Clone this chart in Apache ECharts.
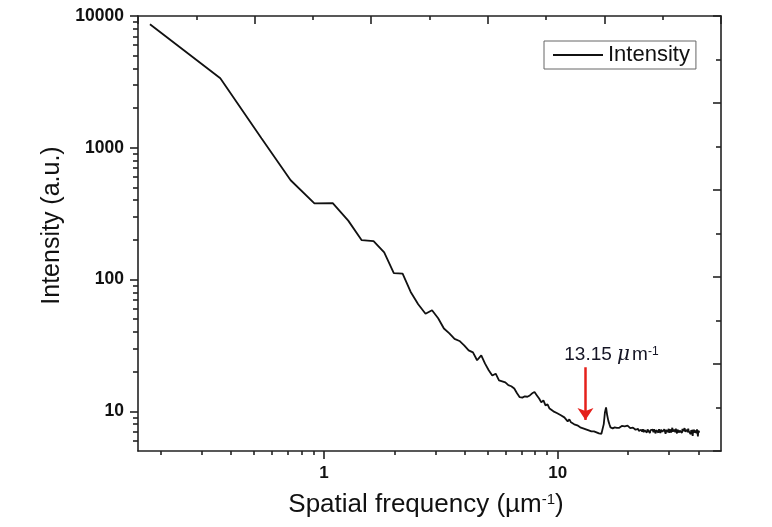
<!DOCTYPE html>
<html>
<head>
<meta charset="utf-8">
<script src="https://cdn.jsdelivr.net/npm/echarts@6/dist/echarts.min.js"></script>
<style>html,body{margin:0;padding:0;background:#fff;}#c{width:772px;height:527px;}</style>
</head>
<body>
<div id="c"></div>
<script>
// Spatial frequency (µm^-1)
const freq = [
0.18,0.36,0.54,0.72,0.91,1.09,1.27,1.45,1.63,1.81,
1.99,2.17,2.35,2.53,2.72,2.9,3.08,3.26,3.44,3.62,
3.8,3.98,4.16,4.34,4.52,4.71,4.89,5.07,5.25,5.43,
5.61,5.79,5.97,6.15,6.33,6.52,6.7,6.88,7.06,7.24,
7.42,7.6,7.78,7.96,8.15,8.33,8.51,8.69,8.87,9.05,
9.23,9.41,9.59,9.77,9.96,10.14,10.32,10.5,10.68,10.86,
11.04,11.22,11.4,11.58,11.77,11.95,12.13,12.31,12.49,12.67,
12.85,13.03,13.21,13.39,13.58,13.76,13.94,14.12,14.3,14.48,
14.66,14.84,15.02,15.2,15.39,15.57,15.75,15.93,16.11,16.29,
16.47,16.65,16.83,17.01,17.2,17.38,17.56,17.74,17.92,18.1,
18.28,18.46,18.64,18.82,19.01,19.19,19.37,19.55,19.73,19.91,
20.09,20.27,20.45,20.63,20.82,21.0,21.18,21.36,21.54,21.72,
21.9,22.08,22.26,22.44,22.63,22.81,22.99,23.17,23.35,23.53,
23.71,23.89,24.07,24.25,24.44,24.62,24.8,24.98,25.16,25.34,
25.52,25.7,25.88,26.06,26.25,26.43,26.61,26.79,26.97,27.15,
27.33,27.51,27.69,27.87,28.06,28.24,28.42,28.6,28.78,28.96,
29.14,29.32,29.5,29.68,29.87,30.05,30.23,30.41,30.59,30.77,
30.95,31.13,31.31,31.49,31.68,31.86,32.04,32.22,32.4,32.58,
32.76,32.94,33.12,33.3,33.49,33.67,33.85,34.03,34.21,34.39,
34.57,34.75,34.93,35.11,35.3,35.48,35.66,35.84,36.02,36.2,
36.38,36.56,36.74,36.92,37.11,37.29,37.47,37.65,37.83,38.01,
38.19,38.37,38.55,38.73,38.92,39.1,39.28,39.46,39.64,39.82,
40.0,40.18,40.36
];
// Intensity (a.u.)
const intensity = [
8670,3375,1183,567,378,380,280,199,196,161,
112,111,80.5,65,55,58.5,50.8,42.5,39,35.5,
34.2,31.7,29.0,28.0,24.4,26.6,23.0,20.5,18.7,19.3,
17.2,16.9,16.6,15.8,15.5,14.9,13.7,12.8,12.7,13.0,
12.9,13.2,13.7,14.0,13.2,12.5,11.7,12.1,11.1,11.3,
10.5,10.7,10.0,10.2,9.66,9.83,9.33,9.49,9.0,9.16,
8.4,8.7,8.25,8.4,7.97,8.25,7.83,7.97,7.56,7.7,
7.43,7.56,7.3,7.37,7.17,7.3,7.05,7.3,7.05,7.1,
6.93,7.05,6.8,6.93,6.75,6.8,8.0,9.8,10.7,9.33,
8.5,7.97,7.56,7.7,7.43,7.6,7.55,7.7,7.5,7.62,
7.48,7.7,7.58,7.75,7.6,7.82,7.7,7.85,7.65,7.78,
7.55,7.68,7.45,7.6,7.4,7.52,7.35,7.48,7.25,7.42,
7.2,7.36,7.1,7.3,7.05,7.25,7.0,7.32,6.95,7.22,
7.4,7.1,6.9,7.28,7.05,7.35,6.85,7.2,7.45,7.0,
7.25,6.95,7.3,7.1,6.8,7.2,7.4,7.05,6.9,7.32,
7.15,6.85,7.25,7.45,7.0,7.18,6.9,7.3,7.08,6.75,
7.22,7.4,6.95,7.15,7.35,6.88,7.1,7.3,6.92,7.2,
7.5,7.02,6.85,7.28,7.12,6.95,7.38,7.05,6.8,7.25,
7.1,7.42,6.9,7.15,7.3,6.98,7.2,6.85,7.35,7.08,
6.92,7.28,7.45,7.0,7.18,6.82,7.25,7.1,6.95,7.4,
7.05,6.88,7.3,7.15,6.7,7.2,7.35,6.95,6.5,7.28,
6.85,7.22,7.05,7.4,6.9,7.18,6.8,7.3,7.0,6.45,
7.15,6.9,7.1
];
// Tick values
const xMajorTicks = [1, 10];
const xMinorTicks = [0.2,0.3,0.4,0.5,0.6,0.7,0.8,0.9,2,3,4,5,6,7,8,9,20,30,40];
const yMajorTicks = [10, 100, 1000, 10000];
const yMinorTicks = [6,7,8,9,20,30,40,50,60,70,80,90,200,300,400,500,600,700,800,900,2000,3000,4000,5000,6000,7000,8000,9000];
// Annotation
const peakFreq = 13.15;
const arrowTop = 21.6;
const arrowBottom = 8.6;

const data = freq.map((f, i) => [f, intensity[i]]);
const FONT = '"Liberation Sans", Arial, sans-serif';
const AX = '#222';

const chart = echarts.init(document.getElementById('c'), null, {renderer: 'canvas'});
chart.setOption({
  animation: false,
  backgroundColor: '#fff',
  textStyle: {fontFamily: FONT, color: '#000'},
  grid: {left: 138, top: 16, right: 51, bottom: 76, containLabel: false, outerBoundsMode: 'none'},
  legend: {
    left: 544, top: 41,
    orient: 'horizontal',
    borderColor: '#666', borderWidth: 1, borderRadius: 0,
    backgroundColor: '#fff',
    padding: [3, 6, 3, 9],
    itemWidth: 50, itemHeight: 14,
    itemGap: 6,
    textStyle: {fontSize: 22, color: '#111', fontFamily: FONT},
    data: [{name: 'Intensity', icon: 'path://M0,6 L50,6 L50,8 L0,8 Z', itemStyle: {color: '#111'}}]
  },
  xAxis: [
    {
      type: 'log', logBase: 10, min: 0.16, max: 50, position: 'bottom',
      name: 'Spatial frequency (µm{sup|-1})',
      nameLocation: 'middle', nameGap: 41,
      nameTextStyle: {fontSize: 26, color: '#111', fontFamily: FONT, padding: [0, 7, 0, 0],
        rich: {sup: {fontSize: 15, verticalAlign: 'top', color: '#111', fontFamily: FONT, padding: [0, 0, 8, 0]}}},
      axisLine: {show: true, lineStyle: {color: AX, width: 1.6}},
      axisTick: {show: true, inside: false, length: 8, lineStyle: {color: AX, width: 1.6}, customValues: xMajorTicks},
      axisLabel: {show: true, margin: 14, fontSize: 17, fontWeight: 'bold', color: '#111', customValues: xMajorTicks, formatter: v => String(v)},
      splitLine: {show: false}, minorTick: {show: false}, minorSplitLine: {show: false}
    },
    {
      type: 'log', logBase: 10, min: 0.16, max: 50, position: 'bottom',
      axisLine: {show: false},
      axisTick: {show: true, inside: false, length: 4, lineStyle: {color: AX, width: 1.6}, customValues: xMinorTicks},
      axisLabel: {show: false},
      splitLine: {show: false}
    },
    {
      type: 'value', min: 0, max: 10, interval: 2, position: 'top',
      axisLine: {show: true, onZero: false, lineStyle: {color: AX, width: 1.6}},
      axisTick: {show: true, inside: true, length: 8, lineStyle: {color: AX, width: 1.6}},
      minorTick: {show: true, splitNumber: 2, length: 4, lineStyle: {color: AX, width: 1.6}},
      axisLabel: {show: false},
      splitLine: {show: false}
    }
  ],
  yAxis: [
    {
      type: 'log', logBase: 10, min: 5, max: 10000, position: 'left',
      name: 'Intensity (a.u.)',
      nameLocation: 'middle', nameGap: 70,
      nameTextStyle: {fontSize: 25, color: '#111', fontFamily: FONT, padding: [0, 0, 0, 16]},
      axisLine: {show: true, onZero: false, lineStyle: {color: AX, width: 1.6}},
      axisTick: {show: true, inside: false, length: 8, lineStyle: {color: AX, width: 1.6}, customValues: yMajorTicks},
      axisLabel: {show: true, margin: 14, fontSize: 17.5, fontWeight: 'bold', color: '#111', customValues: yMajorTicks, formatter: v => String(v)},
      splitLine: {show: false}, minorTick: {show: false}
    },
    {
      type: 'log', logBase: 10, min: 5, max: 10000, position: 'left',
      axisLine: {show: false},
      axisTick: {show: true, inside: false, length: 5, lineStyle: {color: AX, width: 1.6}, customValues: yMinorTicks},
      axisLabel: {show: false},
      splitLine: {show: false}
    },
    {
      type: 'value', min: 0, max: 10, interval: 2, position: 'right',
      axisLine: {show: true, onZero: false, lineStyle: {color: AX, width: 1.6}},
      axisTick: {show: true, inside: true, length: 8, lineStyle: {color: AX, width: 1.6}},
      minorTick: {show: true, splitNumber: 2, length: 5, lineStyle: {color: AX, width: 1.6}},
      axisLabel: {show: false},
      splitLine: {show: false}
    }
  ],
  series: [{
    name: 'Intensity',
    type: 'line',
    xAxisIndex: 0, yAxisIndex: 0,
    data: data,
    showSymbol: false, symbol: 'none',
    lineStyle: {color: '#111', width: 1.8},
    itemStyle: {color: '#111'},
    markLine: {
      silent: true,
      symbol: ['none', 'arrow'],
      symbolSize: 12,
      lineStyle: {color: '#e5201b', width: 2.5, type: 'solid'},
      label: {
        show: true, position: 'start', distance: 2,
        padding: [0, 0, 0, 52],
        formatter: '{n|13.15 }{mu|μ}{n|m}{s|-1}',
        rich: {
          n: {fontSize: 19, color: '#151525', fontFamily: FONT},
          mu: {fontSize: 20, color: '#151525', fontFamily: '"DejaVu Serif", serif', fontStyle: 'italic', padding: [0, 2, 0, 0]},
          s: {fontSize: 12, color: '#151525', fontFamily: FONT, verticalAlign: 'top', padding: [0, 0, 6, 0]}
        }
      },
      data: [[{coord: [peakFreq, arrowTop]}, {coord: [peakFreq, arrowBottom]}]]
    }
  }]
});
</script>
</body>
</html>
